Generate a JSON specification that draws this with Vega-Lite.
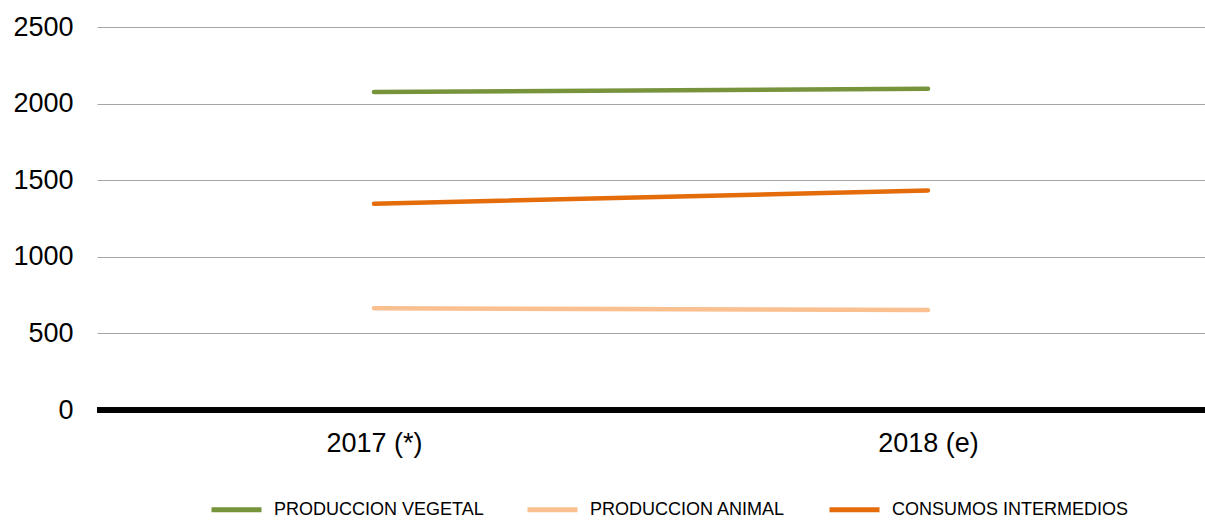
{
  "$schema": "https://vega.github.io/schema/vega-lite/v6.json",
  "autosize": "none",
  "width": 1108,
  "height": 383,
  "padding": {"left": 97, "top": 27, "right": 0, "bottom": 111},
  "background": "white",
  "config": {
    "view": {"stroke": null},
    "font": "Liberation Sans"
  },
  "data": {
    "values": [
      {"anio": "2017 (*)", "serie": "PRODUCCION VEGETAL", "valor": 2075},
      {"anio": "2018 (e)", "serie": "PRODUCCION VEGETAL", "valor": 2097},
      {"anio": "2017 (*)", "serie": "PRODUCCION ANIMAL", "valor": 664},
      {"anio": "2018 (e)", "serie": "PRODUCCION ANIMAL", "valor": 652},
      {"anio": "2017 (*)", "serie": "CONSUMOS INTERMEDIOS", "valor": 1346},
      {"anio": "2018 (e)", "serie": "CONSUMOS INTERMEDIOS", "valor": 1433}
    ]
  },
  "layer": [
    {
      "mark": {"type": "line", "strokeWidth": 4.5, "strokeCap": "round"},
      "encoding": {
        "x": {
          "field": "anio",
          "type": "ordinal",
          "sort": ["2017 (*)", "2018 (e)"],
          "scale": {"type": "point", "padding": 0.5},
          "axis": {
            "title": null,
            "domain": false,
            "ticks": false,
            "labelAngle": 0,
            "labelFontSize": 27,
            "labelColor": "#000000",
            "labelPadding": 20,
            "labelFont": "Liberation Sans"
          }
        },
        "y": {
          "field": "valor",
          "type": "quantitative",
          "scale": {"domain": [0, 2500], "nice": false},
          "axis": {
            "title": null,
            "domain": false,
            "ticks": false,
            "format": "d",
            "values": [0, 500, 1000, 1500, 2000, 2500],
            "labelFontSize": 27,
            "labelColor": "#000000",
            "labelPadding": 24,
            "labelFont": "Liberation Sans",
            "gridColor": "#a6a6a6",
            "gridWidth": 1
          }
        },
        "color": {
          "field": "serie",
          "type": "nominal",
          "scale": {
            "domain": ["PRODUCCION VEGETAL", "PRODUCCION ANIMAL", "CONSUMOS INTERMEDIOS"],
            "range": ["#77933C", "#FAC090", "#E46C0A"]
          },
          "legend": {
            "title": null,
            "orient": "none",
            "direction": "horizontal",
            "legendX": 112,
            "legendY": 455,
            "padding": 0,
            "symbolType": "stroke",
            "symbolSize": 2500,
            "symbolStrokeWidth": 5,
            "labelFontSize": 18,
            "labelFont": "Liberation Sans",
            "labelColor": "#000000",
            "labelOffset": 10,
            "labelLimit": 0,
            "columnPadding": 33
          }
        }
      }
    },
    {
      "mark": {"type": "rule", "color": "#000000", "strokeWidth": 5},
      "encoding": {"y": {"datum": 0}}
    }
  ]
}
